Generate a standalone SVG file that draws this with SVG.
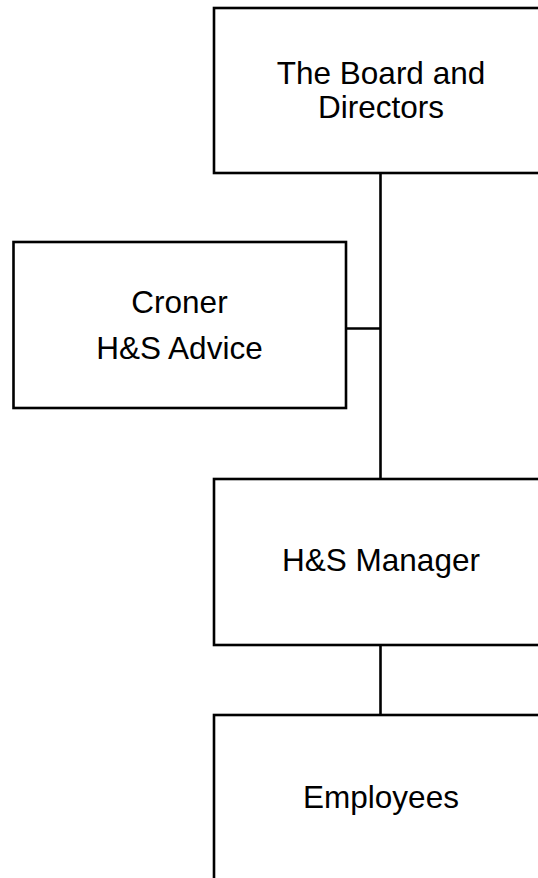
<svg xmlns="http://www.w3.org/2000/svg" width="538" height="878" viewBox="0 0 538 878">
<style>
.box{fill:#fff;stroke:#000;stroke-width:2.6}
.conn{fill:none;stroke:#000;stroke-width:2.6}
.t{font-family:"Liberation Sans",Arial,sans-serif;font-size:31.5px;fill:#000;text-anchor:middle}
</style>
<rect width="538" height="878" fill="#fff"/>
<g id="connectors">
<line class="conn" x1="380.5" y1="173" x2="380.5" y2="479"/>
<line class="conn" x1="346" y1="328.5" x2="380.5" y2="328.5"/>
<line class="conn" x1="380.5" y1="645" x2="380.5" y2="715"/>
</g>
<g id="board">
<rect class="box" x="214" y="8" width="333" height="165"/>
<text class="t" x="381" y="83.5">The Board and</text>
<text class="t" x="381" y="117.5">Directors</text>
</g>
<g id="croner">
<rect class="box" x="13.5" y="242" width="332.5" height="166"/>
<text class="t" x="179.5" y="313">Croner</text>
<text class="t" x="179.5" y="358.5">H&amp;S Advice</text>
</g>
<g id="manager">
<rect class="box" x="214" y="479" width="333" height="166"/>
<text class="t" x="381" y="570.5">H&amp;S Manager</text>
</g>
<g id="employees">
<rect class="box" x="214" y="715" width="333" height="170"/>
<text class="t" x="381" y="808">Employees</text>
</g>
</svg>
